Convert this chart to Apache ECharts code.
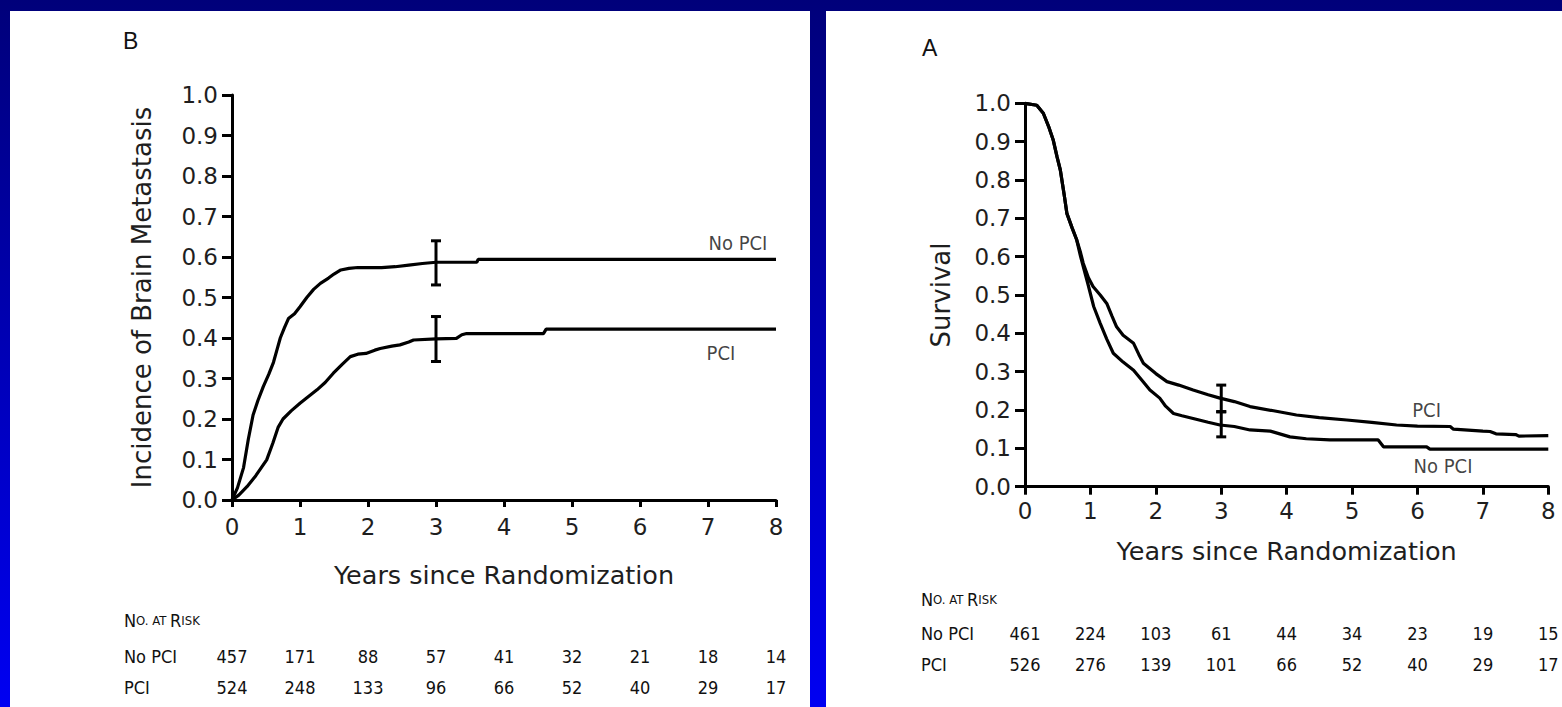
<!DOCTYPE html>
<html>
<head>
<meta charset="utf-8">
<title>Prophylactic cranial irradiation: brain metastasis and survival</title>
<script src="https://cdn.jsdelivr.net/npm/echarts@6/dist/echarts.min.js"></script>
<style>
  html, body { margin: 0; padding: 0; }
  #stage {
    position: relative; width: 1562px; height: 707px; overflow: hidden;
    background: linear-gradient(to bottom, #00007a 0%, #0000f2 100%);
  }
  .panel { position: absolute; background: #fff; }
  #chart { position: absolute; left: 0; top: 0; width: 1562px; height: 707px; }
</style>
</head>
<body>
<div id="stage">
  <div class="panel" style="left:10px;top:11px;width:800px;height:696px;"></div>
  <div class="panel" style="left:826px;top:11px;width:736px;height:696px;"></div>
  <div id="chart"></div>
</div>
<script>
// ---- Panel B: cumulative incidence of brain metastasis (years, incidence)
const brainNoPci = [
  [0,0],[0.08,0.03],[0.17,0.08],[0.24,0.15],[0.31,0.21],[0.38,0.245],[0.46,0.28],
  [0.54,0.31],[0.61,0.34],[0.66,0.37],[0.71,0.40],[0.77,0.425],[0.83,0.448],[0.92,0.46],
  [1.0,0.477],[1.1,0.50],[1.2,0.52],[1.3,0.535],[1.42,0.548],[1.5,0.558],[1.6,0.568],
  [1.72,0.572],[1.85,0.574],[2.2,0.574],[2.4,0.576],[2.6,0.58],[2.8,0.584],[3.0,0.587],
  [3.6,0.587],[3.62,0.594],[8,0.594]
];
const brainPci = [
  [0,0],[0.1,0.012],[0.22,0.033],[0.35,0.06],[0.51,0.099],[0.6,0.14],[0.68,0.18],[0.75,0.2],
  [0.87,0.22],[1.0,0.239],[1.12,0.255],[1.25,0.272],[1.37,0.29],[1.49,0.313],[1.62,0.335],
  [1.74,0.354],[1.85,0.36],[1.97,0.362],[2.1,0.37],[2.18,0.374],[2.35,0.38],[2.47,0.383],
  [2.6,0.39],[2.67,0.395],[3.0,0.398],[3.3,0.399],[3.38,0.408],[3.45,0.411],[4.58,0.411],
  [4.62,0.422],[8,0.422]
];
// 95% confidence intervals at 3 years: [year, lower, upper]
const brainCi = [[3,0.531,0.640],[3,0.342,0.453]];
const brainRiskNoPci = [457,171,88,57,41,32,21,18,14];
const brainRiskPci   = [524,248,133,96,66,52,40,29,17];

// ---- Panel A: overall survival (years, survival)
const survPci = [
  [0,1],[0.18,0.995],[0.28,0.974],[0.36,0.94],[0.43,0.905],[0.49,0.86],[0.54,0.826],
  [0.6,0.76],[0.64,0.713],[0.72,0.675],[0.79,0.644],[0.85,0.61],[0.89,0.583],[0.97,0.545],
  [1.04,0.522],[1.15,0.5],[1.25,0.478],[1.33,0.445],[1.4,0.417],[1.5,0.395],[1.66,0.374],
  [1.74,0.345],[1.81,0.322],[2.0,0.295],[2.17,0.274],[2.35,0.265],[2.57,0.252],[2.8,0.24],
  [2.98,0.231],[3.2,0.222],[3.44,0.209],[3.8,0.198],[4.15,0.187],[4.5,0.18],[4.92,0.174],
  [5.3,0.168],[5.68,0.161],[6.0,0.158],[6.5,0.157],[6.55,0.15],[7.0,0.145],[7.11,0.144],
  [7.2,0.138],[7.5,0.136],[7.55,0.132],[8,0.133]
];
const survNoPci = [
  [0,1],[0.18,0.995],[0.28,0.974],[0.36,0.94],[0.43,0.905],[0.49,0.86],[0.54,0.826],
  [0.6,0.76],[0.64,0.713],[0.72,0.675],[0.79,0.644],[0.85,0.6],[0.92,0.555],[0.96,0.53],
  [1.05,0.47],[1.15,0.426],[1.25,0.385],[1.35,0.348],[1.5,0.325],[1.66,0.304],[1.8,0.275],
  [1.91,0.252],[2.06,0.231],[2.15,0.21],[2.27,0.191],[2.4,0.185],[2.57,0.178],[2.8,0.168],
  [2.98,0.161],[3.2,0.157],[3.44,0.148],[3.75,0.145],[4.05,0.13],[4.3,0.125],[4.66,0.122],
  [5.4,0.122],[5.48,0.104],[6.14,0.104],[6.19,0.098],[8,0.098]
];
const survCi = [[3,0.195,0.265],[3,0.130,0.196]];
const survRiskNoPci = [461,224,103,61,44,34,23,19,15];
const survRiskPci   = [526,276,139,101,66,52,40,29,17];

// Curve name annotations: [year, value, text]
const brainTags = [[7.44,0.635,'No PCI'],[7.19,0.364,'PCI']];
const survTags  = [[6.14,0.200,'PCI'],[6.39,0.055,'No PCI']];

const AXIS_FONT = 'DejaVu Sans';
const NARROW = "'Liberation Sans Narrow', 'DejaVu Sans Condensed', 'Liberation Sans', Arial, sans-serif";
const INK = '#000';
const TEXT = '#1e1e1e';

function mainX(grid, tickLen, labelMargin, nameGap) {
  return {
    gridIndex: grid, type: 'value', min: 0, max: 8, interval: 1,
    axisLine: { lineStyle: { color: INK, width: 3 } },
    axisTick: { length: tickLen, lineStyle: { color: INK, width: 3 } },
    axisLabel: { margin: labelMargin, fontSize: 23, color: TEXT, fontFamily: AXIS_FONT },
    splitLine: { show: false },
    name: 'Years since Randomization', nameLocation: 'middle', nameGap: nameGap,
    nameTextStyle: { fontSize: 25.5, color: TEXT, fontFamily: AXIS_FONT }
  };
}
function mainY(grid, title, nameGap) {
  return {
    gridIndex: grid, type: 'value', min: 0, max: 1, interval: 0.1,
    axisLine: { lineStyle: { color: INK, width: 3 } },
    axisTick: { length: 10, lineStyle: { color: INK, width: 3 } },
    axisLabel: { margin: 14, fontSize: 23, color: TEXT, fontFamily: AXIS_FONT,
                 formatter: v => v.toFixed(1) },
    splitLine: { show: false },
    name: title, nameLocation: 'middle', nameGap: nameGap,
    nameTextStyle: { fontSize: 26, color: TEXT, fontFamily: AXIS_FONT }
  };
}
// Number-at-risk rows drawn as label-only axes sharing the years scale
function riskAxis(grid, offset, counts) {
  return {
    gridIndex: grid, type: 'value', min: 0, max: 8, interval: 1,
    position: 'bottom', offset: offset,
    axisLine: { show: false }, axisTick: { show: false }, splitLine: { show: false },
    axisLabel: { margin: 0, verticalAlign: 'middle', fontSize: 18, color: '#111',
                 fontFamily: NARROW, hideOverlap: false, interval: 0,
                 showMinLabel: true, showMaxLabel: true,
                 formatter: v => String(counts[Math.round(v)]) }
  };
}

function curve(data, xi, yi) {
  return { type: 'line', xAxisIndex: xi, yAxisIndex: yi, data: data,
           showSymbol: false, symbol: 'none', smooth: false,
           lineStyle: { color: INK, width: 3.2 }, silent: true, z: 3 };
}
function ciBars(data, xi, yi) {
  return {
    type: 'custom', xAxisIndex: xi, yAxisIndex: yi, data: data, z: 4, silent: true,
    encode: { x: 0, y: [1, 2] },
    renderItem: (params, api) => {
      const t = api.value(0);
      const top = api.coord([t, api.value(2)]);
      const bot = api.coord([t, api.value(1)]);
      const w = 5, st = { stroke: INK, lineWidth: 3 };
      return { type: 'group', children: [
        { type: 'line', shape: { x1: top[0], y1: top[1], x2: bot[0], y2: bot[1] }, style: st },
        { type: 'line', shape: { x1: top[0]-w, y1: top[1], x2: top[0]+w, y2: top[1] }, style: st },
        { type: 'line', shape: { x1: bot[0]-w, y1: bot[1], x2: bot[0]+w, y2: bot[1] }, style: st }
      ]};
    }
  };
}
function tags(data, xi, yi) {
  return {
    type: 'scatter', xAxisIndex: xi, yAxisIndex: yi, data: data,
    symbolSize: 1, itemStyle: { color: 'transparent' }, silent: true, z: 5,
    label: { show: true, position: 'inside', formatter: p => p.data[2],
             fontSize: 20, color: '#111', fontFamily: NARROW }
  };
}

function smallCaps(x, y) {
  return {
    type: 'text', x: x, y: y,
    style: {
      text: '{b|N}{s|O. AT }{b|R}{s|ISK}', verticalAlign: 'middle', align: 'left',
      rich: {
        b: { fontSize: 18, fontFamily: NARROW, fill: '#111' },
        s: { fontSize: 13, fontFamily: NARROW, fill: '#111' }
      }
    }
  };
}
function plain(x, y, text, size, font) {
  return { type: 'text', x: x, y: y,
           style: { text: text, fontSize: size, fontFamily: font || NARROW, fill: '#111',
                    align: 'left', verticalAlign: 'middle' } };
}

const chart = echarts.init(document.getElementById('chart'), null,
  { renderer: 'svg', width: 1562, height: 707 });

chart.setOption({
  animation: false,
  backgroundColor: 'transparent',
  grid: [
    { left: 232, top: 95, width: 544, height: 405 },
    { left: 1025, top: 103.3, width: 523.3, height: 383.4 }
  ],
  xAxis: [
    mainX(0, 7, 15, 62),
    riskAxis(0, 156, brainRiskNoPci),
    riskAxis(0, 187, brainRiskPci),
    mainX(1, 8, 13, 51),
    riskAxis(1, 146.3, survRiskNoPci),
    riskAxis(1, 177.3, survRiskPci)
  ],
  yAxis: [
    mainY(0, 'Incidence of Brain Metastasis', 77),
    mainY(1, 'Survival', 71)
  ],
  series: [
    curve(brainNoPci, 0, 0),
    curve(brainPci, 0, 0),
    ciBars(brainCi, 0, 0),
    tags(brainTags, 0, 0),
    curve(survPci, 3, 1),
    curve(survNoPci, 3, 1),
    ciBars(survCi, 3, 1),
    tags(survTags, 3, 1)
  ],
  graphic: [
    plain(123, 41, 'B', 23, "'Liberation Sans', Arial, sans-serif"),
    plain(922, 48, 'A', 23, "'Liberation Sans', Arial, sans-serif"),
    smallCaps(124, 620),
    plain(124, 656, 'No PCI', 18),
    plain(124, 687, 'PCI', 18),
    smallCaps(921, 599),
    plain(921, 633, 'No PCI', 18),
    plain(921, 664, 'PCI', 18)
  ]
});
</script>
</body>
</html>
